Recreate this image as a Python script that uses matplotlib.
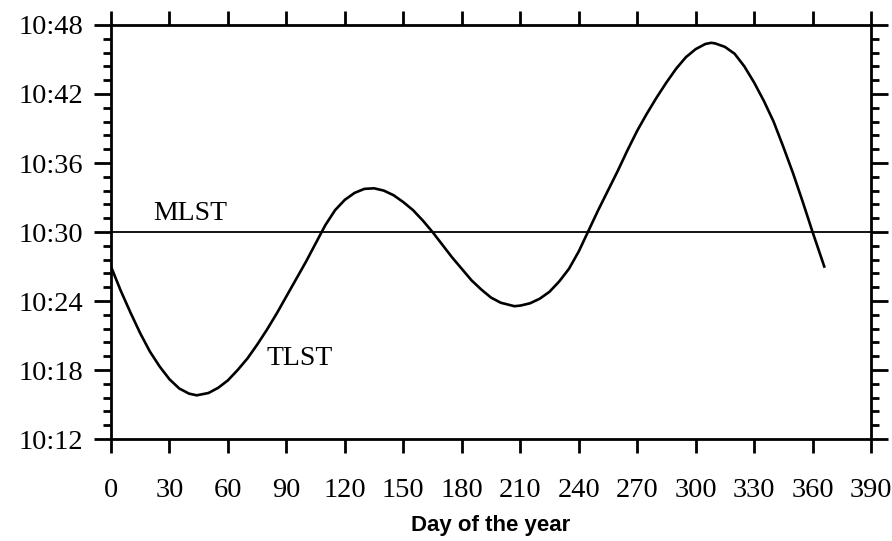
import numpy as np
import matplotlib
matplotlib.use("Agg")
import matplotlib.pyplot as plt
from matplotlib.ticker import MultipleLocator, FuncFormatter

# true local solar time minus 10:00, in minutes
days = [0, 5, 10, 15, 20, 25, 30, 35, 40, 44, 50, 55, 60, 65, 70, 75, 80, 85,
        90, 95, 100, 105, 110, 115, 120, 125, 130, 135, 140, 145, 150, 155,
        160, 165, 170, 175, 180, 185, 190, 195, 200, 207, 210, 215, 220, 225,
        230, 235, 240, 245, 250, 255, 260, 265, 270, 275, 280, 285, 290, 295,
        300, 305, 308, 310, 315, 320, 325, 330, 335, 340, 345, 350, 355, 360,
        366]
tlst = [27.0, 24.9, 23.0, 21.2, 19.6, 18.3, 17.2, 16.4, 15.95, 15.8, 16.0,
        16.45, 17.1, 18.0, 19.0, 20.2, 21.5, 22.9, 24.4, 25.9, 27.4, 29.0,
        30.6, 31.9, 32.8, 33.4, 33.75, 33.8, 33.6, 33.2, 32.6, 31.9, 31.0,
        30.0, 28.9, 27.8, 26.8, 25.8, 25.0, 24.3, 23.85, 23.55, 23.6, 23.8,
        24.2, 24.8, 25.7, 26.8, 28.3, 30.1, 31.9, 33.6, 35.3, 37.1, 38.8,
        40.3, 41.7, 43.0, 44.2, 45.2, 45.9, 46.35, 46.45, 46.4, 46.1, 45.5,
        44.4, 43.0, 41.4, 39.6, 37.4, 35.1, 32.6, 30.0, 27.0]
mlst = 30.0

xticks = [0, 30, 60, 90, 120, 150, 180, 210, 240, 270, 300, 330, 360, 390]

plt.rcParams["font.family"] = "Liberation Serif"

fig = plt.figure(figsize=(8.92, 5.41), dpi=100)
ax = fig.add_axes([0.1244, 0.1885, 0.8521, 0.7653])

ax.plot(days, tlst, color="black", lw=1.9, solid_joinstyle="round")
ax.axhline(mlst, color="black", lw=1.3)

ax.text(21.5, 31.65, "MLST", fontsize=20, va="center", ha="left")
ax.text(80.0, 19.0, "TLST", fontsize=20, va="center", ha="left")

ax.set_xlim(0, 390)
ax.set_ylim(12, 48)
ax.set_xticks(xticks)
ax.yaxis.set_major_locator(MultipleLocator(6))
ax.yaxis.set_minor_locator(MultipleLocator(1.2))
ax.yaxis.set_major_formatter(FuncFormatter(lambda v, p: "10:%02d" % int(round(v))))

for s in ax.spines.values():
    s.set_linewidth(2)

ax.tick_params(axis="x", which="major", direction="out", length=10, width=2,
               top=True, labelsize=20.5, pad=18)
ax.tick_params(axis="y", which="major", direction="out", length=12, width=2,
               right=True, labelsize=20.5, pad=8)
ax.tick_params(axis="y", which="minor", direction="out", length=6, width=2,
               right=True)

ax.set_xlabel("Day of the year", fontsize=16, fontweight="bold",
              family="Liberation Sans", labelpad=9)

fig.savefig("out.png", dpi=100)
